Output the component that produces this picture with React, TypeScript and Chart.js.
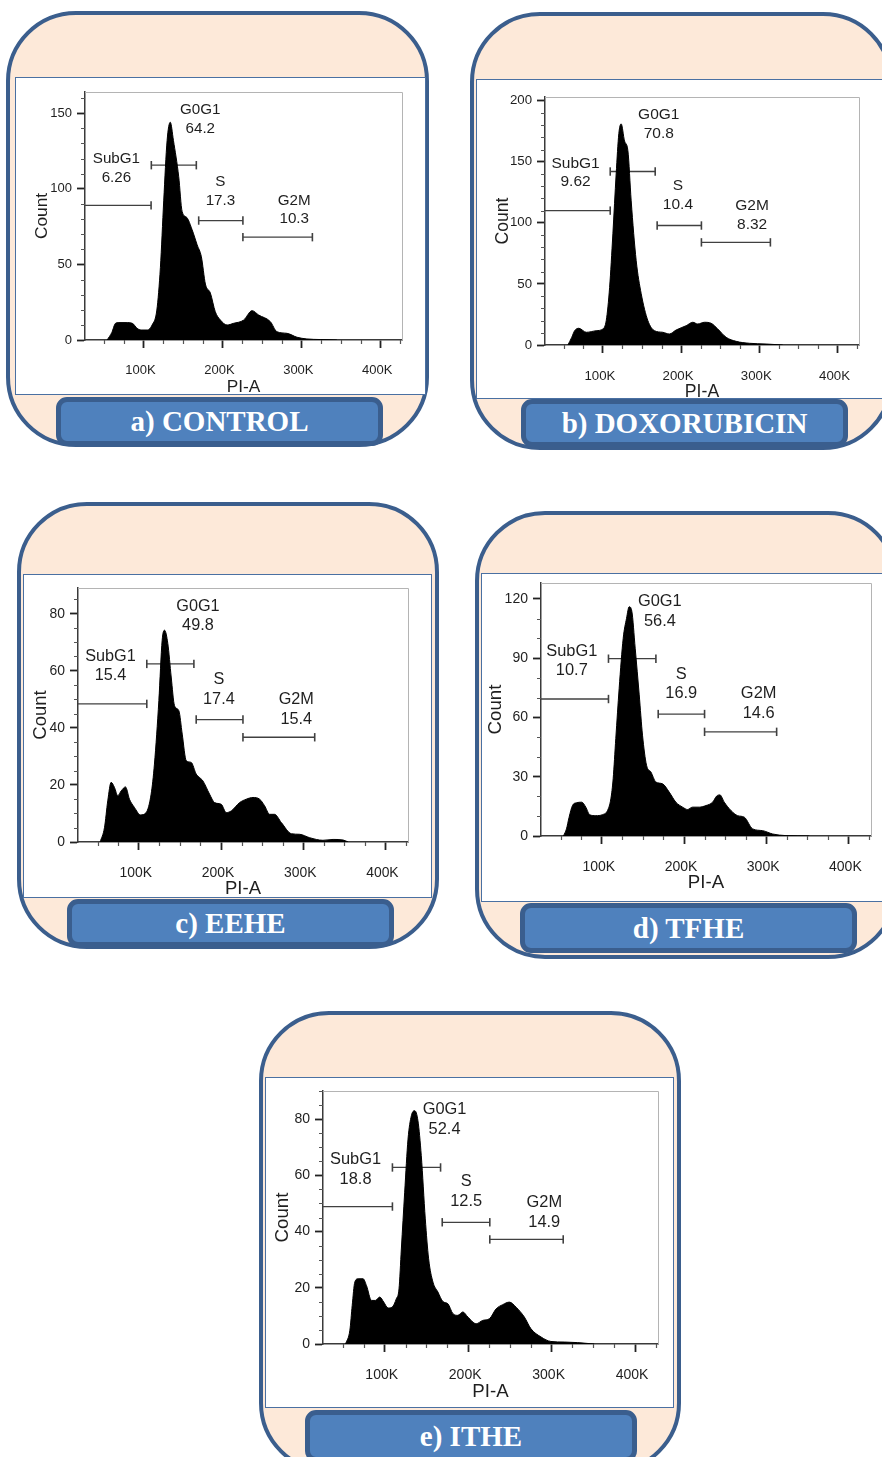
import React, { useEffect, useRef } from 'react';
import { Chart, registerables } from 'chart.js';

Chart.register(...registerables);
Chart.defaults.font.family = "'Liberation Sans', Arial, sans-serif";

// ---------- shared axis data ----------
const PHASES = ['SubG1', 'G0G1', 'S', 'G2M'];
const X_MIN = 26; // PI-A, thousands
const X_MAX = 427.5;
const X_TICKS = [100, 200, 300, 400];
const X_MINOR_STEP = 25;

// ---------- a) CONTROL ----------
const controlPI = [54, 60, 64.6, 69, 78, 86, 92, 97, 105, 111, 117, 121.5, 125.7, 130, 134, 138, 144.7, 149, 155, 161.6, 168, 173.4, 178.5, 184.8, 191, 197.5, 206, 214, 227, 237.6, 246, 260.8, 269, 282, 294.6, 307, 324, 345];
const controlCount = [0, 5, 11, 11.5, 11.5, 11, 7.7, 6.6, 6.6, 9.9, 19.8, 48, 92, 132, 144, 132, 108, 85, 81, 73, 63, 55, 37, 31, 18.7, 13.2, 9.9, 11, 13.2, 19.4, 16.5, 12.1, 5.5, 4.4, 1.8, 0.7, 0.3, 0];
const controlPct = [6.26, 64.2, 17.3, 10.3];
const controlGateStart = [X_MIN, 110, 170, 226];
const controlGateEnd = [109.7, 167, 226, 314];
const controlGateLevel = [89, 115.6, 79, 68];
const controlLabelX = [65.8, 172, 197.5, 291];
const controlLabelY = [113.6, 146, 98.4, 86];
const controlYTicks = [0, 50, 100, 150];
const controlYMax = 164;

// ---------- b) DOXORUBICIN ----------
const doxoPI = [55.3, 60, 63.9, 69.3, 78.8, 91.5, 100, 104.3, 108.6, 112.8, 117, 120.4, 123.4, 127.7, 132, 136.2, 142.6, 149, 157.5, 166, 176.6, 185, 193.7, 206.5, 215, 221.3, 229.9, 238.4, 246.9, 257.6, 270.4, 287.4, 308.7, 330];
const doxoCount = [0, 6, 11.7, 13.7, 10.4, 11.7, 13.1, 20, 47, 91, 140, 173, 181, 167, 159, 118, 69, 42, 20, 11.7, 10.4, 9, 12.3, 15.8, 18.6, 17.2, 18.6, 17.8, 13.1, 6.3, 3, 1.4, 0.8, 0];
const doxoPct = [9.62, 70.8, 10.4, 8.32];
const doxoGateStart = [X_MIN, 109.4, 169.4, 226];
const doxoGateEnd = [109.4, 166.9, 226, 314.2];
const doxoGateLevel = [110, 142, 97.8, 84];
const doxoLabelX = [65.1, 171.5, 196, 290.8];
const doxoLabelY = [141, 180.6, 122.7, 106.3];
const doxoYTicks = [0, 50, 100, 150, 200];
const doxoYMax = 203;

// ---------- c) EEHE ----------
const eehePI = [52.9, 58.2, 62.2, 66.3, 70.4, 74.4, 78.5, 83.8, 88.6, 94.7, 102, 108.9, 115, 119, 124.4, 128.4, 131.3, 135.3, 139.4, 143.4, 148.7, 152.8, 157.7, 163.7, 169.8, 173.9, 178, 186, 192.2, 200.3, 206.4, 212.5, 222.6, 230.7, 238.9, 247, 253, 259.2, 265.2, 273.4, 285.6, 295.7, 307.9, 324, 336.3, 348.5, 354.6];
const eeheCount = [0, 5, 14.4, 20.9, 19.1, 16.2, 17.9, 19.3, 15, 12.1, 9.5, 10.3, 16.8, 27.3, 49.6, 70.7, 74.2, 69.5, 57.8, 47.8, 46, 37.8, 28.5, 27.9, 23.8, 22.6, 21.4, 16.8, 13.8, 13.2, 10.3, 10.9, 13.8, 15, 15.6, 15, 12.7, 9.7, 9.7, 6.8, 2.9, 2.7, 1.5, 0.6, 0.9, 0.7, 0];
const eehePct = [15.4, 49.8, 17.4, 15.4];
const eeheGateStart = [X_MIN, 109.7, 169.8, 226.7];
const eeheGateEnd = [109.7, 167, 226.7, 314];
const eeheGateLevel = [48.4, 62.4, 42.9, 36.7];
const eeheLabelX = [65.5, 171.9, 197.4, 291.6];
const eeheLabelY = [61.6, 79.1, 53.4, 46.5];
const eeheYTicks = [0, 20, 40, 60, 80];
const eeheYMax = 89;

// ---------- d) TFHE ----------
const tfhePI = [53.3, 57, 60.2, 64.3, 69.1, 75.6, 80.5, 85.4, 92.7, 100.8, 106.9, 111, 113.8, 117, 121.1, 126, 130, 133.3, 136.5, 140.6, 145.5, 149.5, 154.4, 159.7, 165.8, 173.9, 182, 190.1, 198.3, 204.3, 210.4, 218.6, 226.7, 234.8, 239.7, 243.7, 249, 257.1, 265.2, 273.4, 283.5, 295.7, 307.9, 324, 352.5];
const tfheCount = [0, 3.6, 9.5, 15.4, 16.8, 17.1, 14.6, 10.7, 10.3, 10.8, 12.9, 18.8, 29, 49.3, 74.7, 100, 110, 116, 113.7, 95, 71.4, 51, 35.8, 32.4, 27.3, 26.4, 22.2, 17.1, 14.6, 13.4, 14.6, 14.6, 15.4, 17.1, 20.2, 20.8, 17.1, 12.9, 10.3, 9.5, 3.6, 2.7, 1, 0.2, 0];
const tfhePct = [10.7, 56.4, 16.9, 14.6];
const tfheGateStart = [X_MIN, 108.1, 168.6, 225];
const tfheGateEnd = [108.1, 165.8, 225, 312.7];
const tfheGateLevel = [69.3, 89.7, 61.7, 52.7];
const tfheLabelX = [63.5, 170.6, 196.6, 290.8];
const tfheLabelY = [88.6, 113.7, 76.9, 66.9];
const tfheYTicks = [0, 30, 60, 90, 120];
const tfheYMax = 128;

// ---------- e) ITHE ----------
const ithePI = [53, 58.2, 61, 64.1, 68.1, 74.1, 78.1, 84.1, 88.8, 94, 98.8, 104, 108.8, 113.9, 117.1, 119.9, 123.9, 127.9, 131.9, 135.9, 139.8, 143.8, 148.6, 152.6, 157.8, 163.7, 169.7, 175.7, 181.7, 187.6, 193.6, 199.6, 209.6, 217.5, 225.5, 233.5, 241.4, 249.4, 257.4, 267.3, 275.3, 287.3, 299.2, 315.1, 331, 347, 351];
const itheCount = [0, 4.9, 13.7, 22, 23.2, 23.2, 20.8, 15.5, 15.5, 16.7, 14.9, 12.8, 13.1, 16.1, 19.6, 33.8, 54, 72.9, 81.2, 83, 79.4, 67, 44.5, 30.3, 22, 18.5, 15.1, 14.3, 10.8, 10.2, 11.4, 9.6, 7.2, 8.4, 9, 12.5, 14, 14.9, 13.1, 9.6, 5.4, 2.5, 0.9, 0.7, 0.5, 0.1, 0];
const ithePct = [18.8, 52.4, 12.5, 14.9];
const itheGateStart = [X_MIN, 109.2, 168.9, 225.9];
const itheGateEnd = [109.2, 166.9, 225.9, 313.9];
const itheGateLevel = [48.9, 62.8, 43.3, 37.2];
const itheLabelX = [65, 171.7, 197.6, 291.2];
const itheLabelY = [62.2, 79.8, 54.2, 46.9];
const itheYTicks = [0, 20, 40, 60, 80];
const itheYMax = 90;

// ---------- layout (page pixels) ----------
type Box = { l: number; t: number; w: number; h: number };
type PanelDef = {
  title: string;
  pi: number[]; count: number[]; pct: number[];
  gs: number[]; ge: number[]; gl: number[]; lx: number[]; ly: number[];
  yTicks: number[]; yMax: number; yMinor: number;
  outer: Box; inner: Box; bar: Box;
  plot: { l: number; t: number; r: number; b: number };
  countX: number; piaY: number; s: number;
};

const PANELS: PanelDef[] = [
  {
    title: 'a) CONTROL', pi: controlPI, count: controlCount, pct: controlPct,
    gs: controlGateStart, ge: controlGateEnd, gl: controlGateLevel, lx: controlLabelX, ly: controlLabelY,
    yTicks: controlYTicks, yMax: controlYMax, yMinor: 10,
    outer: { l: 6, t: 11, w: 423, h: 436 }, inner: { l: 15, t: 77, w: 411, h: 318 },
    bar: { l: 56, t: 397, w: 327, h: 49 },
    plot: { l: 85, t: 92, r: 402, b: 340 }, countX: 42, piaY: 387, s: 1.0,
  },
  {
    title: 'b) DOXORUBICIN', pi: doxoPI, count: doxoCount, pct: doxoPct,
    gs: doxoGateStart, ge: doxoGateEnd, gl: doxoGateLevel, lx: doxoLabelX, ly: doxoLabelY,
    yTicks: doxoYTicks, yMax: doxoYMax, yMinor: 10,
    outer: { l: 470, t: 12, w: 423, h: 438 }, inner: { l: 476, t: 79, w: 420, h: 320 },
    bar: { l: 521, t: 399, w: 327, h: 48 },
    plot: { l: 545, t: 97, r: 859, b: 345 }, countX: 503, piaY: 392, s: 1.02,
  },
  {
    title: 'c) EEHE', pi: eehePI, count: eeheCount, pct: eehePct,
    gs: eeheGateStart, ge: eeheGateEnd, gl: eeheGateLevel, lx: eeheLabelX, ly: eeheLabelY,
    yTicks: eeheYTicks, yMax: eeheYMax, yMinor: 5,
    outer: { l: 17, t: 502, w: 422, h: 447 }, inner: { l: 23, t: 574, w: 409, h: 324 },
    bar: { l: 67, t: 899, w: 327, h: 48 },
    plot: { l: 78, t: 588, r: 408, b: 842 }, countX: 41, piaY: 889, s: 1.07,
  },
  {
    title: 'd) TFHE', pi: tfhePI, count: tfheCount, pct: tfhePct,
    gs: tfheGateStart, ge: tfheGateEnd, gl: tfheGateLevel, lx: tfheLabelX, ly: tfheLabelY,
    yTicks: tfheYTicks, yMax: tfheYMax, yMinor: 10,
    outer: { l: 475, t: 511, w: 423, h: 448 }, inner: { l: 481, t: 573, w: 412, h: 329 },
    bar: { l: 520, t: 903, w: 337, h: 50 },
    plot: { l: 541, t: 583, r: 871, b: 836 }, countX: 496, piaY: 883, s: 1.08,
  },
  {
    title: 'e) ITHE', pi: ithePI, count: itheCount, pct: ithePct,
    gs: itheGateStart, ge: itheGateEnd, gl: itheGateLevel, lx: itheLabelX, ly: itheLabelY,
    yTicks: itheYTicks, yMax: itheYMax, yMinor: 5,
    outer: { l: 259, t: 1011, w: 422, h: 462 }, inner: { l: 265, t: 1077, w: 409, h: 331 },
    bar: { l: 305, t: 1410, w: 332, h: 52 },
    plot: { l: 323, t: 1091, r: 658, b: 1344 }, countX: 283, piaY: 1392, s: 1.08,
  },
];

const TEXT = '#1f1f1f';
const AXIS = '#3a3a3a';

function Histogram({ p }: { p: PanelDef }) {
  const ref = useRef<HTMLCanvasElement>(null);
  const cl = p.countX - 14;
  const ct = p.plot.t - 14;
  const cr = p.plot.r + 14;
  const cb = p.piaY + 11;
  const W = cr - cl;
  const H = cb - ct;
  const yw = p.plot.l - cl;
  const xh = cb - p.plot.b;
  const tickF = 13 * p.s;
  const gateF = 15.2 * p.s;
  const titleF = 17.3 * p.s;

  useEffect(() => {
    const canvas = ref.current;
    if (!canvas) return;

    const histData = p.pi.map((x, i) => ({ x, y: p.count[i] }));
    const gateSets = PHASES.map((name, i) => ({
      label: name,
      data: [{ x: p.gs[i], y: p.gl[i] }, { x: p.ge[i], y: p.gl[i] }],
      borderColor: '#404040',
      borderWidth: 1.3,
      pointStyle: 'line' as const,
      rotation: 90,
      pointRadius: i === 0 ? [0, 4.2] : [4.2, 4.2],
      pointBorderColor: '#404040',
      pointBorderWidth: 1.6,
      fill: false,
      tension: 0,
    }));

    const decorPlugin = {
      id: 'decor',
      beforeDatasetsDraw(chart: any) {
        const { ctx, chartArea, scales } = chart;
        const { left, right, top, bottom } = chartArea;
        const xs = scales.x;
        const ys = scales.y;
        ctx.save();
        // light frame on top/right
        ctx.strokeStyle = '#b4b4b4';
        ctx.lineWidth = 1;
        ctx.beginPath();
        ctx.moveTo(left, top + 0.5);
        ctx.lineTo(right + 0.5, top + 0.5);
        ctx.lineTo(right + 0.5, bottom);
        ctx.stroke();
        // minor ticks
        ctx.strokeStyle = '#555';
        ctx.lineWidth = 1.2;
        ctx.beginPath();
        for (let v = Math.ceil(X_MIN / X_MINOR_STEP) * X_MINOR_STEP; v <= X_MAX; v += X_MINOR_STEP) {
          if (X_TICKS.includes(v)) continue;
          const px = Math.round(xs.getPixelForValue(v)) + 0.5;
          ctx.moveTo(px, bottom);
          ctx.lineTo(px, bottom + 4);
        }
        for (let v = p.yMinor; v <= p.yMax; v += p.yMinor) {
          if (p.yTicks.includes(v)) continue;
          const py = Math.round(ys.getPixelForValue(v)) + 0.5;
          ctx.moveTo(left - 4, py);
          ctx.lineTo(left, py);
        }
        ctx.stroke();
        ctx.restore();
      },
      afterDatasetsDraw(chart: any) {
        const { ctx, scales } = chart;
        const xs = scales.x;
        const ys = scales.y;
        const lh = gateF * 1.2;
        ctx.save();
        ctx.font = `${gateF}px 'Liberation Sans', Arial, sans-serif`;
        ctx.fillStyle = TEXT;
        ctx.textAlign = 'center';
        ctx.textBaseline = 'middle';
        PHASES.forEach((name, i) => {
          const px = xs.getPixelForValue(p.lx[i]);
          const py = ys.getPixelForValue(p.ly[i]);
          ctx.fillText(name, px, py - lh / 2);
          ctx.fillText(String(p.pct[i]), px, py + lh / 2);
        });
        ctx.restore();
      },
    };

    const chart = new Chart(canvas, {
      type: 'line',
      data: {
        datasets: [
          {
            label: 'Count',
            data: histData,
            borderColor: '#000',
            backgroundColor: '#000',
            borderWidth: 1,
            pointRadius: 0,
            fill: 'origin',
            cubicInterpolationMode: 'monotone',
          } as any,
          ...gateSets,
        ],
      },
      options: {
        responsive: false,
        animation: false,
        events: [],
        layout: { padding: { top: ct - ct + 14, right: 14, left: 0, bottom: 0 } },
        plugins: { legend: { display: false }, tooltip: { enabled: false } },
        scales: {
          x: {
            type: 'linear',
            min: X_MIN,
            max: X_MAX,
            afterBuildTicks: (s: any) => { s.ticks = X_TICKS.map((v) => ({ value: v })); },
            afterFit: (s: any) => { s.height = xh; },
            ticks: {
              callback: (v: any) => `${v}K`,
              padding: 15,
              labelOffset: -3,
              maxRotation: 0,
              autoSkip: false,
              color: TEXT,
              font: { size: tickF },
            },
            grid: { drawOnChartArea: false, tickLength: 8, tickColor: '#222', tickWidth: 1.8 },
            border: { color: AXIS, width: 1.5 },
            title: {
              display: true, text: 'PI-A', color: TEXT,
              font: { size: titleF, lineHeight: 1 },
              padding: { top: 0, bottom: 11 - titleF / 2 },
            },
          },
          y: {
            type: 'linear',
            min: 0,
            max: p.yMax,
            afterBuildTicks: (s: any) => { s.ticks = p.yTicks.map((v) => ({ value: v })); },
            afterFit: (s: any) => { s.width = yw; },
            ticks: { padding: 5, color: TEXT, font: { size: tickF } },
            grid: { drawOnChartArea: false, tickLength: 8, tickColor: '#222', tickWidth: 1.8 },
            border: { color: AXIS, width: 1.5 },
            title: {
              display: true, text: 'Count', color: TEXT,
              font: { size: titleF, lineHeight: 1 },
              padding: { top: 14 - titleF / 2, bottom: 0 },
            },
          },
        },
      } as any,
      plugins: [decorPlugin],
    });
    return () => chart.destroy();
  }, []);

  return (
    <canvas
      ref={ref}
      width={W}
      height={H}
      style={{ position: 'absolute', left: cl, top: ct, width: W, height: H }}
    />
  );
}

function Panel({ p }: { p: PanelDef }) {
  return (
    <>
      <div
        style={{
          position: 'absolute', left: p.outer.l, top: p.outer.t, width: p.outer.w, height: p.outer.h,
          boxSizing: 'border-box', border: '4px solid #3B5E8D', borderRadius: 70, background: '#FDE9D9',
        }}
      />
      <div
        style={{
          position: 'absolute', left: p.inner.l, top: p.inner.t, width: p.inner.w, height: p.inner.h,
          boxSizing: 'border-box', border: '1.5px solid #4A70A2', background: '#fff',
        }}
      />
      <Histogram p={p} />
      <div
        style={{
          position: 'absolute', left: p.bar.l, top: p.bar.t, width: p.bar.w, height: p.bar.h,
          boxSizing: 'border-box', border: '5px solid #3A5E8E', borderRadius: 11, background: '#4F81BD',
          color: '#fff', fontFamily: "'Liberation Serif', 'Times New Roman', serif", fontWeight: 'bold',
          fontSize: 29, display: 'flex', alignItems: 'center', justifyContent: 'center', lineHeight: 1,
          whiteSpace: 'nowrap',
        }}
      >
        {p.title}
      </div>
    </>
  );
}

export default function App() {
  return (
    <div style={{ position: 'absolute', left: 0, top: 0, width: 882, height: 1457, overflow: 'hidden', background: '#fff' }}>
      {PANELS.map((p) => (
        <Panel key={p.title} p={p} />
      ))}
    </div>
  );
}
